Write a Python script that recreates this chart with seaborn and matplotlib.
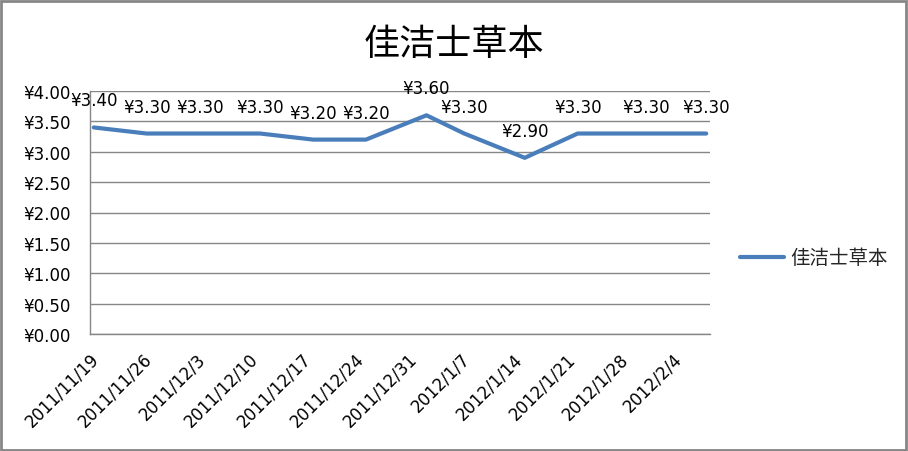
import matplotlib
matplotlib.use("Agg")
import matplotlib.pyplot as plt
import seaborn as sns
import pandas as pd
import numpy as np
from matplotlib.patches import Rectangle
from matplotlib.lines import Line2D

# ---- data ----
dates = ["2011-11-19", "2011-11-26", "2011-12-03", "2011-12-11", "2011-12-18", "2011-12-25",
         "2012-01-02", "2012-01-07", "2012-01-15", "2012-01-22", "2012-01-31", "2012-02-08"]
prices = [3.40, 3.30, 3.30, 3.30, 3.20, 3.20, 3.60, 3.30, 2.90, 3.30, 3.30, 3.30]
tick_labels = ["2011/11/19", "2011/11/26", "2011/12/3", "2011/12/10", "2011/12/17", "2011/12/24",
               "2011/12/31", "2012/1/7", "2012/1/14", "2012/1/21", "2012/1/28", "2012/2/4"]
series_name = "佳洁士草本"
title = "佳洁士草本"

sns.set_theme(style="white")
plt.rcParams['font.family'] = ['DejaVu Sans', 'Noto Sans CJK SC']

start = pd.Timestamp("2011-11-19")
days = [(pd.Timestamp(d) - start).days + 0.5 for d in dates]
df = pd.DataFrame({"day": days, "price": prices, "s": series_name})

fig = plt.figure(figsize=(9.08, 4.52), dpi=100)
W, H = 908, 452
ax = fig.add_axes([90 / W, 1 - 335 / H, 620 / W, (335 - 92) / H])

sns.lineplot(data=df, x="day", y="price", ax=ax, color="#4A7EBB", linewidth=3,
             legend=False, solid_joinstyle="round")

ax.set_xlim(0, 82)
ax.set_ylim(0, 4)
ax.set_yticks(np.arange(0, 4.01, 0.5))
ax.set_yticklabels([f"¥{v:.2f}" for v in np.arange(0, 4.01, 0.5)], fontsize=12)
ax.set_xticks(np.arange(0, 78, 7))
ax.set_xticklabels(tick_labels, rotation=45, ha="right", va="top",
                   rotation_mode="anchor", fontsize=12)
ax.set_xlabel("")
ax.set_ylabel("")
ax.grid(axis="y", color="#868686", linewidth=1)
ax.grid(axis="x", visible=False)
for s in ["top", "right"]:
    ax.spines[s].set_visible(False)
for s in ["left", "bottom"]:
    ax.spines[s].set_color("#868686")
    ax.spines[s].set_linewidth(1)
ax.tick_params(axis="both", which="major", direction="out", length=5, width=1,
               color="#868686", labelcolor="black")
ax.tick_params(axis="y", pad=9)
ax.tick_params(axis="x", pad=6)

for d, p in zip(days, prices):
    ax.annotate(f"¥{p:.2f}", (d, p), xytext=(0, 27), textcoords="offset pixels",
                ha="center", va="center", fontsize=12, color="black",
                annotation_clip=False)

fig.text(454 / W, 1 - 45 / H, title, ha="center", va="center", fontsize=26,
         family=["Noto Sans CJK SC"], color="black")

h = Line2D([0], [0], color="#4A7EBB", linewidth=3)
fig.legend([h], [series_name], loc="center left", bbox_to_anchor=(722 / W, 1 - 259 / H),
           frameon=False, handlelength=2.3, handletextpad=0.3,
           prop={"family": ["Noto Sans CJK SC"], "size": 14})

fig.patches.append(Rectangle((1 / W, 1 / H), 1 - 3 / W, 1 - 3 / H, transform=fig.transFigure,
                             fill=False, edgecolor="#868686", linewidth=2))

fig.savefig("out.png", dpi=100)
